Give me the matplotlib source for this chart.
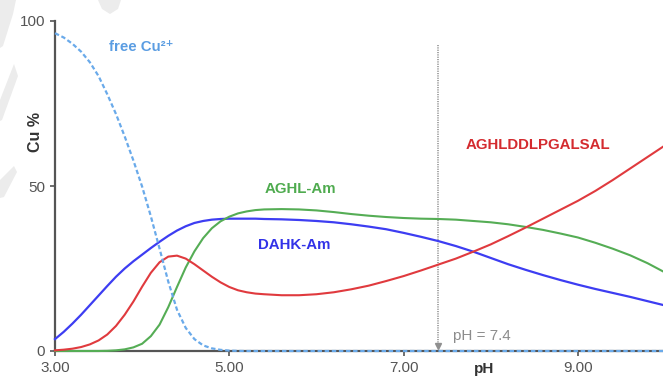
import matplotlib
matplotlib.use("Agg")
import matplotlib.pyplot as plt
from matplotlib.patches import Polygon
from matplotlib.transforms import IdentityTransform

plt.rcParams['font.family'] = ['Liberation Sans', 'DejaVu Sans']

# Copper speciation versus pH
ph = [3.0, 3.1, 3.2, 3.3, 3.4, 3.5, 3.6, 3.7, 3.8, 3.9,
      4.0, 4.1, 4.2, 4.3, 4.4, 4.5, 4.6, 4.7, 4.8, 4.9,
      5.0, 5.1, 5.2, 5.3, 5.4, 5.6, 5.8, 6.0, 6.2, 6.4,
      6.6, 6.8, 7.0, 7.2, 7.4, 7.6, 7.8, 8.0, 8.2, 8.4,
      8.6, 8.8, 9.0, 9.2, 9.4, 9.6, 9.8, 10.0]

free_cu = [96.3, 95.0, 93.1, 90.7, 87.5, 83.3, 77.8, 71.8, 65.0, 57.7,
           49.8, 40.8, 31.0, 21.0, 12.5, 7.0, 3.6, 1.7, 0.8, 0.35,
           0.12, 0.03, 0.0, 0.0, 0.0, 0.0, 0.0, 0.0, 0.0, 0.0,
           0.0, 0.0, 0.0, 0.0, 0.0, 0.0, 0.0, 0.0, 0.0, 0.0,
           0.0, 0.0, 0.0, 0.0, 0.0, 0.0, 0.0, 0.0]

dahk_am = [3.6, 5.8, 8.3, 11.0, 13.9, 16.8, 19.7, 22.5, 25.0, 27.2,
           29.2, 31.2, 33.1, 34.9, 36.5, 37.8, 38.8, 39.4, 39.8, 40.0,
           40.1, 40.1, 40.1, 40.1, 40.0, 39.9, 39.7, 39.4, 39.0, 38.4,
           37.7, 36.9, 35.8, 34.6, 33.3, 31.8, 30.1, 28.2, 26.3, 24.6,
           23.0, 21.5, 20.1, 18.8, 17.6, 16.4, 15.1, 13.8]

aghl_am = [0.0, 0.0, 0.0, 0.0, 0.0, 0.0, 0.05, 0.2, 0.5, 1.1,
           2.2, 4.5, 8.0, 13.3, 19.4, 25.3, 30.2, 34.2, 37.2, 39.3,
           40.7, 41.7, 42.3, 42.7, 42.9, 43.0, 42.9, 42.6, 42.1, 41.5,
           41.0, 40.6, 40.3, 40.1, 40.0, 39.8, 39.4, 39.0, 38.4, 37.6,
           36.7, 35.6, 34.4, 32.8, 31.0, 29.0, 26.6, 23.8]

aghlddlpgalsal = [0.2, 0.4, 0.7, 1.2, 2.0, 3.2, 5.0, 7.6, 11.0, 15.0,
                  19.5, 23.7, 26.9, 28.6, 28.9, 28.0, 26.3, 24.4, 22.5, 20.8,
                  19.4, 18.4, 17.8, 17.4, 17.2, 16.9, 16.9, 17.2, 17.8, 18.7,
                  19.8, 21.2, 22.7, 24.4, 26.2, 28.0, 30.1, 32.3, 34.8, 37.4,
                  40.1, 42.8, 45.5, 48.5, 51.8, 55.3, 58.8, 62.3]

x_ticks = [3, 5, 7, 9]
x_ticklabels = ['3.00', '5.00', '7.00', '9.00']
y_ticks = [0, 50, 100]
marker_ph = 7.4

W, H = 663, 379
fig = plt.figure(figsize=(W / 100, H / 100), dpi=100)

# faint background logo fragments (pixel coordinates, y measured from top)
logo_shapes = [
    [(0, 0), (16, 0), (13, 14), (8, 30), (3, 46), (0, 48)],
    [(98, 0), (121, 0), (118, 9), (110, 14), (102, 9)],
    [(14, 64), (18, 76), (2, 120), (0, 121), (0, 100)],
    [(14, 166), (17, 172), (4, 197), (0, 198), (0, 180)],
]
for pts in logo_shapes:
    fig.patches.append(Polygon([(x, H - y) for x, y in pts], closed=True,
                               transform=IdentityTransform(),
                               facecolor='#ececec', edgecolor='none', zorder=0))

ax = fig.add_axes([55 / W, 28 / H, 610 / W, 330 / H])
ax.set_xlim(3, 10)
ax.set_ylim(0, 100)
ax.patch.set_alpha(0)

c_blue = '#3d3df2'
c_green = '#55ad55'
c_red = '#e03a3e'
c_free = '#6aaaea'

ax.plot(ph, dahk_am, color=c_blue, lw=1.6, zorder=3, clip_on=False)
ax.plot(ph, aghl_am, color=c_green, lw=1.5, zorder=3, clip_on=False)
ax.plot(ph, aghlddlpgalsal, color=c_red, lw=1.5, zorder=3, clip_on=False)
ax.plot(ph, free_cu, color=c_free, lw=1.6, ls=(0, (2.0, 1.2)), zorder=4,
        clip_on=False)

# pH 7.4 marker
ax.plot([marker_ph, marker_ph], [92.7, 2.0], color='#a5a5a5', lw=1.4,
        ls=(0, (0.6, 0.6)), zorder=2)
ax.plot([marker_ph], [1.6], marker='v', color='#8f8f8f', ms=4.5, zorder=2,
        clip_on=False)
ax.text(7.57, 4.6, 'pH = 7.4', color='#8c8c8c', fontsize=11,
        ha='left', va='center')

for s in ['top', 'right']:
    ax.spines[s].set_visible(False)
for s in ['left', 'bottom']:
    ax.spines[s].set_color('#555555')
    ax.spines[s].set_linewidth(1.6)

ax.set_xticks(x_ticks)
ax.set_xticklabels(x_ticklabels)
ax.set_yticks(y_ticks)
ax.tick_params(axis='both', colors='#555555', labelcolor='#555555',
               labelsize=11, length=3.5, width=1.2, pad=3.5)

# axis titles
ax.text(7.93, -0.055, 'pH', transform=ax.get_xaxis_transform(),
        fontsize=11, fontweight='bold', color='#333333',
        ha='center', va='center')
fig.text(35 / W, 1 - 132 / H, 'Cu %', rotation=90, fontsize=11.5,
         fontweight='bold', color='#333333', ha='center', va='center')

# series labels
ax.text(3.99, 92.2, 'free Cu²⁺', color='#5b9de2', fontsize=10.8,
        fontweight='bold', ha='center', va='center')
ax.text(5.82, 49.0, 'AGHL-Am', color='#4fab4f', fontsize=10.8,
        fontweight='bold', ha='center', va='center')
ax.text(5.74, 32.0, 'DAHK-Am', color='#3232e8', fontsize=10.8,
        fontweight='bold', ha='center', va='center')
ax.text(8.54, 62.3, 'AGHLDDLPGALSAL', color='#d42b2f', fontsize=10.8,
        fontweight='bold', ha='center', va='center')

fig.savefig('out.png', dpi=100)
